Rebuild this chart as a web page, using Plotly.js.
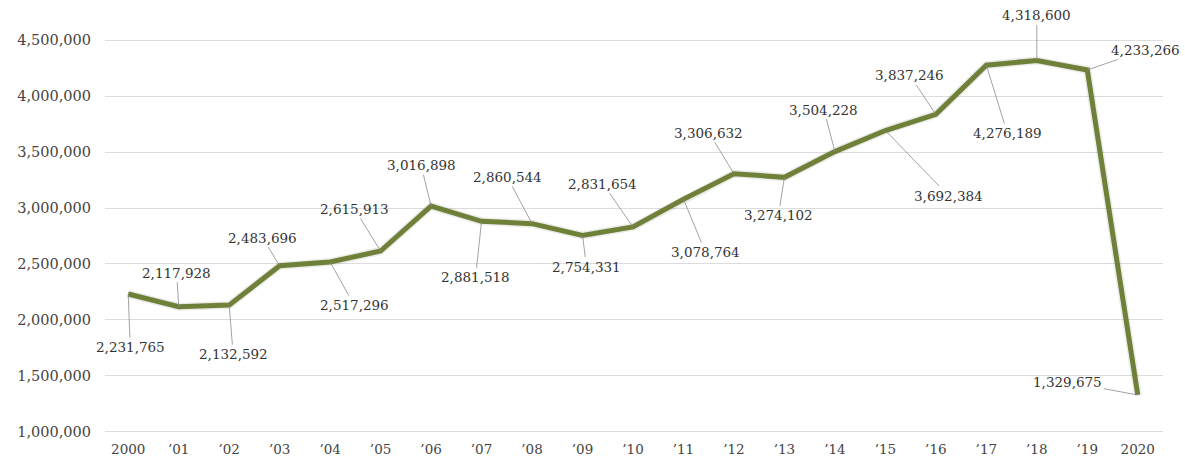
<!DOCTYPE html>
<html>
<head>
<meta charset="utf-8">
<script src="https://cdn.plot.ly/plotly-3.0.1.min.js"></script>
<style>
  html, body { margin: 0; padding: 0; background: #fff; }
  #chart { width: 1185px; height: 461px; }
</style>
</head>
<body>
<div id="chart"></div>
<script>
// Annual visitor totals, 2000–2020
const yearLabels = ["2000", "’01", "’02", "’03", "’04", "’05", "’06", "’07", "’08", "’09", "’10",
                    "’11", "’12", "’13", "’14", "’15", "’16", "’17", "’18", "’19", "2020"];
const visitors = [2231765, 2117928, 2132592, 2483696, 2517296, 2615913, 3016898, 2881518, 2860544, 2754331, 2831654,
                  3078764, 3306632, 3274102, 3504228, 3692384, 3837246, 4276189, 4318600, 4233266, 1329675];
const yTicks = [1000000, 1500000, 2000000, 2500000, 3000000, 3500000, 4000000, 4500000];

// Pixel offset of each callout label from its point (leader line runs between them)
const calloutOffsets = [
  [2, 53], [-2, -34], [4, 49], [-17, -28], [24, 43], [-26, -42], [-10, -41], [-6, 56], [-25, -47], [4, 31], [-30, -43],
  [22, 53], [-25, -41], [-6, 38], [-11, -42], [63, 65], [-26, -39], [21, 68], [0, -45], [58, -20], [-70, -13]
];

const fmt = v => v.toLocaleString("en-US");
const serif = "DejaVu Serif, Liberation Serif, serif";

// Category positions are addressed by index so that "2000"/"2020" are not read as numbers
const annotations = visitors.map((v, i) => ({
  x: i, y: v, xref: "x", yref: "y",
  text: fmt(v),
  showarrow: true, arrowhead: 0, arrowwidth: 0.8, arrowcolor: "#8a8a8a",
  standoff: 0, startstandoff: 0, borderpad: 1,
  ax: calloutOffsets[i][0], ay: calloutOffsets[i][1],
  font: { family: serif, size: 13.5, color: "#333" }
}));

const shadow = {
  x: yearLabels, y: visitors, type: "scatter", mode: "lines",
  line: { color: "rgba(60,60,40,0.10)", width: 8 },
  hoverinfo: "skip", showlegend: false
};
const series = {
  x: yearLabels, y: visitors, type: "scatter", mode: "lines",
  line: { color: "#6f8038", width: 5 },
  hoverinfo: "skip", showlegend: false
};

const layout = {
  width: 1185, height: 461,
  margin: { l: 105, r: 22, t: 39, b: 28 },
  paper_bgcolor: "#fff", plot_bgcolor: "#fff",
  showlegend: false,
  xaxis: {
    type: "category", range: [-0.46, 20.5],
    tickvals: yearLabels, ticktext: yearLabels,
    showgrid: false, zeroline: false, showline: false, ticks: "",
    ticklabelstandoff: 6,
    tickfont: { family: serif, size: 13.5, color: "#444" }
  },
  yaxis: {
    range: [990000, 4510000],
    tickvals: yTicks, ticktext: yTicks.map(fmt),
    showgrid: true, gridcolor: "#dcdcdc", gridwidth: 1,
    zeroline: false, showline: false, ticks: "", ticklen: 0,
    ticklabelstandoff: 13,
    tickfont: { family: serif, size: 14.5, color: "#444" }
  },
  annotations: annotations
};

Plotly.newPlot("chart", [shadow, series], layout, { staticPlot: true, displayModeBar: false });
</script>
</body>
</html>
